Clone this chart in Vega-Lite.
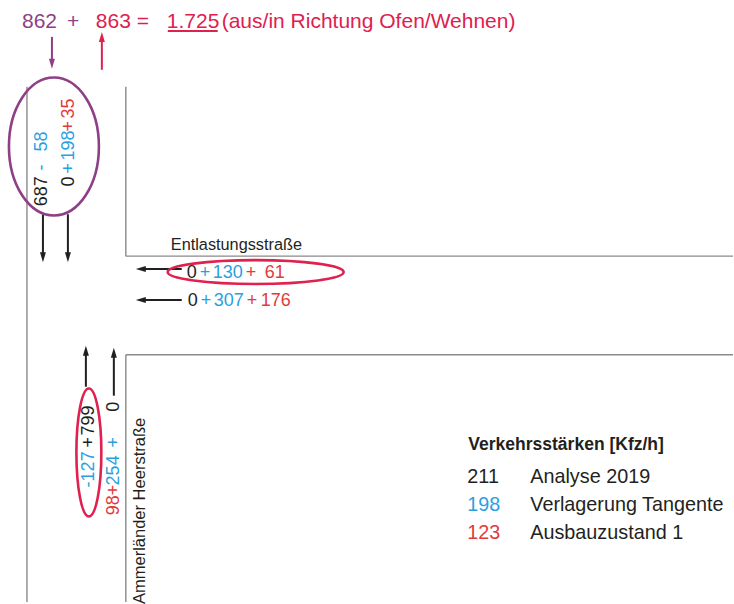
{
  "$schema": "https://vega.github.io/schema/vega-lite/v6.json",
  "width": 734,
  "height": 604,
  "padding": 0,
  "autosize": {"type": "fit", "contains": "padding"},
  "background": "white",
  "config": {"view": {"stroke": null}, "text": {"font": "Liberation Sans"}},
  "datasets": {
    "roads": [
      {"x": 27, "y": 87, "x2": 27, "y2": 604},
      {"x": 126, "y": 87, "x2": 126, "y2": 257},
      {"x": 126, "y": 257, "x2": 734, "y2": 257},
      {"x": 126, "y": 356, "x2": 734, "y2": 356},
      {"x": 126, "y": 356, "x2": 126, "y2": 604}
    ],
    "arrows": [
      {"x": 43, "y": 215, "x2": 43, "y2": 256, "c": "a"},
      {"x": 68, "y": 215, "x2": 68, "y2": 256, "c": "a"},
      {"x": 182, "y": 270, "x2": 143, "y2": 270, "c": "a"},
      {"x": 182, "y": 301, "x2": 143, "y2": 301, "c": "a"},
      {"x": 86, "y": 388, "x2": 86, "y2": 354, "c": "a"},
      {"x": 114, "y": 397, "x2": 114, "y2": 356, "c": "a"},
      {"x": 52, "y": 37, "x2": 52, "y2": 62, "c": "p"},
      {"x": 102, "y": 70, "x2": 102, "y2": 39, "c": "c"},
      {"x": 168, "y": 31, "x2": 218, "y2": 31, "c": "c"}
    ],
    "heads": [
      {"x": 43, "y": 263, "d": "down", "c": "a"},
      {"x": 68, "y": 263, "d": "down", "c": "a"},
      {"x": 136, "y": 270, "d": "left", "c": "a"},
      {"x": 136, "y": 301, "d": "left", "c": "a"},
      {"x": 86, "y": 347, "d": "up", "c": "a"},
      {"x": 114, "y": 349, "d": "up", "c": "a"},
      {"x": 52, "y": 69, "d": "down", "c": "p"},
      {"x": 102, "y": 32, "d": "up", "c": "c"}
    ],
    "ellipses": [
      {"id": "e1", "x": 54, "y": 147, "c": "p"},
      {"id": "e2", "x": 256, "y": 273, "c": "c"},
      {"id": "e3", "x": 89, "y": 454, "c": "c"}
    ],
    "labels": [
      {"g": "top", "x": 22, "y": 22, "t": "862", "c": "p"},
      {"g": "top", "x": 67, "y": 22, "t": "+", "c": "p"},
      {"g": "top", "x": 96, "y": 22, "t": "863 =", "c": "c"},
      {"g": "top", "x": 167, "y": 22, "t": "1.725", "c": "c"},
      {"g": "top", "x": 222, "y": 22, "t": "(aus/in Richtung Ofen/Wehnen)", "c": "c"},
      {"g": "h", "x": 187, "y": 274, "t": "0", "c": "a"},
      {"g": "h", "x": 200, "y": 274, "t": "+", "c": "v"},
      {"g": "h", "x": 213, "y": 274, "t": "130", "c": "v"},
      {"g": "h", "x": 246, "y": 274, "t": "+", "c": "z"},
      {"g": "h", "x": 265, "y": 274, "t": "61", "c": "z"},
      {"g": "h", "x": 188, "y": 302, "t": "0", "c": "a"},
      {"g": "h", "x": 201, "y": 302, "t": "+", "c": "v"},
      {"g": "h", "x": 214, "y": 302, "t": "307", "c": "v"},
      {"g": "h", "x": 247, "y": 302, "t": "+", "c": "z"},
      {"g": "h", "x": 261, "y": 302, "t": "176", "c": "z"},
      {"g": "v", "x": 42, "y": 207, "t": "687", "c": "a"},
      {"g": "v", "x": 42, "y": 171, "t": "-", "c": "v"},
      {"g": "v", "x": 42, "y": 152, "t": "58", "c": "v"},
      {"g": "v", "x": 69, "y": 187, "t": "0", "c": "a"},
      {"g": "v", "x": 69, "y": 174, "t": "+", "c": "v"},
      {"g": "v", "x": 69, "y": 161, "t": "198", "c": "v"},
      {"g": "v", "x": 69, "y": 132, "t": "+", "c": "z"},
      {"g": "v", "x": 69, "y": 119, "t": "35", "c": "z"},
      {"g": "v", "x": 89, "y": 489, "t": "-127", "c": "v"},
      {"g": "v", "x": 89, "y": 449, "t": "+", "c": "a"},
      {"g": "v", "x": 89, "y": 437, "t": "799", "c": "a"},
      {"g": "v", "x": 114, "y": 517, "t": "98", "c": "z"},
      {"g": "v", "x": 114, "y": 497, "t": "+", "c": "z"},
      {"g": "v", "x": 114, "y": 487, "t": "254", "c": "v"},
      {"g": "v", "x": 114, "y": 449, "t": "+", "c": "v"},
      {"g": "v", "x": 114, "y": 413, "t": "0", "c": "a"},
      {"g": "hn", "x": 171, "y": 246, "t": "Entlastungsstraße", "c": "a"},
      {"g": "vn", "x": 140, "y": 606, "t": "Ammerländer Heerstraße", "c": "a"},
      {"g": "lt", "x": 469, "y": 446, "t": "Verkehrsstärken [Kfz/h]", "c": "a"},
      {"g": "l", "x": 468, "y": 479, "t": "211", "c": "a"},
      {"g": "l", "x": 531, "y": 479, "t": "Analyse 2019", "c": "a"},
      {"g": "l", "x": 468, "y": 507, "t": "198", "c": "v"},
      {"g": "l", "x": 531, "y": 507, "t": "Verlagerung Tangente", "c": "a"},
      {"g": "l", "x": 468, "y": 535, "t": "123", "c": "z"},
      {"g": "l", "x": 531, "y": 535, "t": "Ausbauzustand 1", "c": "a"}
    ]
  },
  "encoding": {
    "x": {"field": "x", "type": "quantitative", "scale": {"domain": [0, 734], "nice": false, "zero": false}, "axis": null},
    "y": {"field": "y", "type": "quantitative", "scale": {"domain": [0, 604], "reverse": true, "nice": false, "zero": false}, "axis": null}
  },
  "layer": [
    {
      "data": {"name": "roads"},
      "mark": {"type": "rule", "color": "#8a8a8a", "strokeWidth": 1.4},
      "encoding": {"x2": {"field": "x2"}, "y2": {"field": "y2"}}
    },
    {
      "data": {"name": "arrows"},
      "mark": {"type": "rule", "strokeWidth": 2},
      "encoding": {
        "x2": {"field": "x2"}, "y2": {"field": "y2"},
        "color": {"field": "c", "type": "nominal", "legend": null, "scale": {"domain": ["a", "v", "z", "p", "c"], "range": ["#231f20", "#2a9fe0", "#e23b3b", "#8e3f86", "#e0204f"]}}
      }
    },
    {
      "data": {"name": "heads"},
      "mark": {"type": "point", "filled": true, "size": 400, "opacity": 1, "strokeWidth": 0},
      "encoding": {
        "shape": {"field": "d", "type": "nominal", "legend": null, "scale": {"domain": ["down", "up", "left"], "range": ["M0,0L-0.3,-1L0.3,-1Z", "M0,0L-0.3,1L0.3,1Z", "M0,0L1,-0.3L1,0.3Z"]}},
        "color": {"field": "c", "type": "nominal", "legend": null}
      }
    },
    {
      "data": {"name": "ellipses"},
      "transform": [{"filter": "datum.id == 'e1'"}],
      "mark": {"type": "point", "filled": false, "strokeWidth": 2.6, "opacity": 1, "size": 19044, "shape": "M-0.652,0A0.652,1,0,1,0,0.652,0A0.652,1,0,1,0,-0.652,0Z"},
      "encoding": {"color": {"field": "c", "type": "nominal", "legend": null}}
    },
    {
      "data": {"name": "ellipses"},
      "transform": [{"filter": "datum.id == 'e2'"}],
      "mark": {"type": "point", "filled": false, "strokeWidth": 2.6, "opacity": 1, "size": 30976, "shape": "M-1,0A1,0.136,0,1,0,1,0A1,0.136,0,1,0,-1,0Z"},
      "encoding": {"color": {"field": "c", "type": "nominal", "legend": null}}
    },
    {
      "data": {"name": "ellipses"},
      "transform": [{"filter": "datum.id == 'e3'"}],
      "mark": {"type": "point", "filled": false, "strokeWidth": 2.6, "opacity": 1, "size": 16384, "shape": "M-0.195,0A0.195,1,0,1,0,0.195,0A0.195,1,0,1,0,-0.195,0Z"},
      "encoding": {"color": {"field": "c", "type": "nominal", "legend": null}}
    },
    {
      "data": {"name": "labels"},
      "transform": [{"filter": "datum.g == 'top'"}],
      "mark": {"type": "text", "align": "left", "baseline": "middle", "fontSize": 21},
      "encoding": {"text": {"field": "t"}, "color": {"field": "c", "type": "nominal", "legend": null}}
    },
    {
      "data": {"name": "labels"},
      "transform": [{"filter": "datum.g == 'h'"}],
      "mark": {"type": "text", "align": "left", "baseline": "middle", "fontSize": 18},
      "encoding": {"text": {"field": "t"}, "color": {"field": "c", "type": "nominal", "legend": null}}
    },
    {
      "data": {"name": "labels"},
      "transform": [{"filter": "datum.g == 'v'"}],
      "mark": {"type": "text", "align": "left", "baseline": "middle", "fontSize": 18, "angle": 270},
      "encoding": {"text": {"field": "t"}, "color": {"field": "c", "type": "nominal", "legend": null}}
    },
    {
      "data": {"name": "labels"},
      "transform": [{"filter": "datum.g == 'hn'"}],
      "mark": {"type": "text", "align": "left", "baseline": "middle", "fontSize": 16.3},
      "encoding": {"text": {"field": "t"}, "color": {"field": "c", "type": "nominal", "legend": null}}
    },
    {
      "data": {"name": "labels"},
      "transform": [{"filter": "datum.g == 'vn'"}],
      "mark": {"type": "text", "align": "left", "baseline": "middle", "fontSize": 16.5, "angle": 270},
      "encoding": {"text": {"field": "t"}, "color": {"field": "c", "type": "nominal", "legend": null}}
    },
    {
      "data": {"name": "labels"},
      "transform": [{"filter": "datum.g == 'lt'"}],
      "mark": {"type": "text", "align": "left", "baseline": "middle", "fontSize": 17.5, "fontWeight": "bold"},
      "encoding": {"text": {"field": "t"}, "color": {"field": "c", "type": "nominal", "legend": null}}
    },
    {
      "data": {"name": "labels"},
      "transform": [{"filter": "datum.g == 'l'"}],
      "mark": {"type": "text", "align": "left", "baseline": "middle", "fontSize": 19.8},
      "encoding": {"text": {"field": "t"}, "color": {"field": "c", "type": "nominal", "legend": null}}
    }
  ]
}
